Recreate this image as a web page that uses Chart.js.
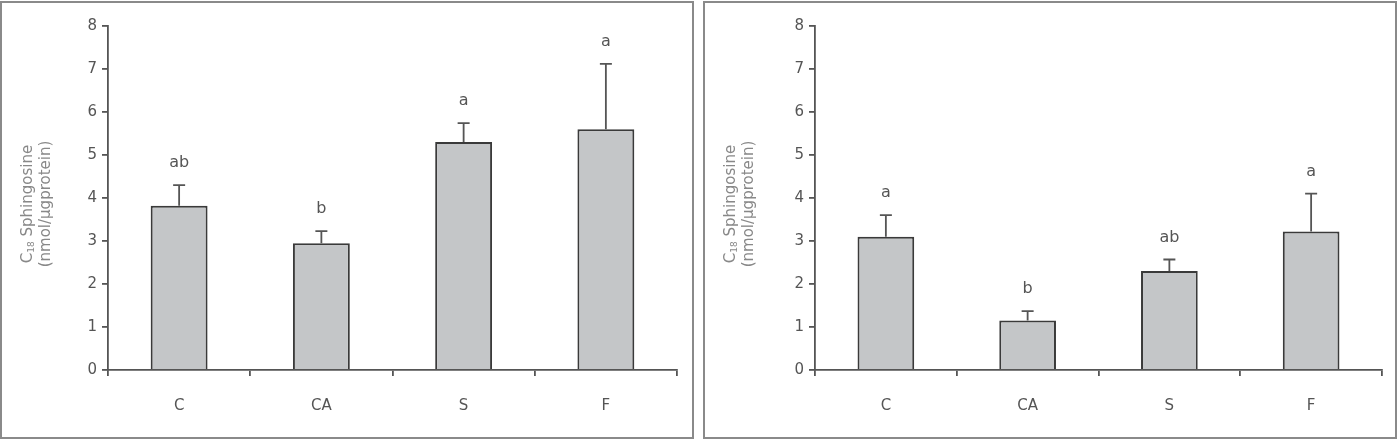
<!DOCTYPE html>
<html>
<head>
<meta charset="utf-8">
<script src="https://cdn.jsdelivr.net/npm/chart.js@4.4.1/dist/chart.umd.min.js"></script>
<style>
  html, body { margin: 0; padding: 0; background: #fff; }
  .panel { position: absolute; top: 1px; width: 690px; height: 434px; border: 2px solid #8a8a8a; background: #fff; }
  #leftPanel { left: 0px; }
  #rightPanel { left: 703px; }
</style>
</head>
<body>
<div class="panel" id="leftPanel"><canvas id="leftChart" width="690" height="434"></canvas></div>
<div class="panel" id="rightPanel"><canvas id="rightChart" width="690" height="434"></canvas></div>
<script>
// data
const categories = ['C', 'CA', 'S', 'F'];
const leftMeans = [3.82, 2.95, 5.30, 5.60];
const leftErrors = [0.48, 0.28, 0.44, 1.52];
const leftLetters = ['ab', 'b', 'a', 'a'];
const rightMeans = [3.10, 1.15, 2.30, 3.22];
const rightErrors = [0.50, 0.22, 0.27, 0.88];
const rightLetters = ['a', 'b', 'ab', 'a'];
const yMin = 0;
const yMax = 8;
const yStep = 1;

const fontFamily = '"DejaVu Sans", sans-serif';

// error bars, significance letters and the two-line y title with subscript
const extrasPlugin = {
    id: 'extras',
    afterDatasetsDraw(chart, args, opts) {
        const ctx = chart.ctx;
        const y = chart.scales.y;
        const meta = chart.getDatasetMeta(0);
        ctx.save();
        meta.data.forEach((bar, i) => {
            const cx = bar.x;
            const top = y.getPixelForValue(opts.means[i]);
            const errTop = y.getPixelForValue(opts.means[i] + opts.errors[i]);
            ctx.strokeStyle = '#555';
            ctx.lineWidth = 1.8;
            ctx.beginPath();
            ctx.moveTo(cx, top);
            ctx.lineTo(cx, errTop);
            ctx.moveTo(cx - 6, errTop);
            ctx.lineTo(cx + 6, errTop);
            ctx.stroke();
            ctx.fillStyle = '#555';
            ctx.font = '16px ' + fontFamily;
            ctx.textAlign = 'center';
            ctx.textBaseline = 'middle';
            ctx.fillText(opts.letters[i], cx, errTop - 22);
        });

        // y title
        const midY = (y.top + y.bottom) / 2 + 6;
        ctx.fillStyle = '#888';
        ctx.translate(opts.titleX, midY);
        ctx.rotate(-Math.PI / 2);
        ctx.textBaseline = 'middle';
        ctx.textAlign = 'left';
        const big = '15px ' + fontFamily;
        const small = '9px ' + fontFamily;
        ctx.font = big;
        const wC = ctx.measureText('C').width;
        const wRest = ctx.measureText(' Sphingosine').width;
        ctx.font = small;
        const wSub = ctx.measureText('18').width;
        let sx = -(wC + wSub + wRest) / 2;
        ctx.font = big;
        ctx.fillText('C', sx, 0);
        sx += wC;
        ctx.font = small;
        ctx.fillText('18', sx, 4);
        sx += wSub;
        ctx.font = big;
        ctx.fillText(' Sphingosine', sx, 0);
        ctx.textAlign = 'center';
        ctx.fillText('(nmol/\u00b5gprotein)', 0, 18);
        ctx.restore();
    }
};

function makeChart(id, means, errors, letters, padLeft, padRight) {
    return new Chart(document.getElementById(id), {
        type: 'bar',
        data: {
            labels: categories,
            datasets: [{
                data: means,
                backgroundColor: '#c4c6c8',
                borderColor: '#3a3a3a',
                borderWidth: 2,
                borderSkipped: 'bottom',
                categoryPercentage: 1.0,
                barPercentage: 0.4
            }]
        },
        options: {
            responsive: false,
            animation: false,
            events: [],
            layout: { padding: { left: padLeft, right: padRight, top: 23, bottom: 0 } },
            plugins: {
                legend: { display: false },
                tooltip: { enabled: false },
                extras: { means: means, errors: errors, letters: letters, titleX: 26 }
            },
            scales: {
                x: {
                    offset: true,
                    grid: { offset: true, drawOnChartArea: false, tickLength: 6, color: '#555', lineWidth: 1.8 },
                    border: { display: true, color: '#555', width: 1.8 },
                    ticks: { color: '#555', padding: 21, font: { family: fontFamily, size: 15 } },
                    afterFit(scale) { scale.height = 67; }
                },
                y: {
                    min: yMin,
                    max: yMax,
                    grid: { drawOnChartArea: false, tickLength: 6, color: '#555', lineWidth: 1.8 },
                    border: { display: true, color: '#555', width: 1.8 },
                    ticks: { stepSize: yStep, color: '#555', padding: 5, font: { family: fontFamily, size: 15 } },
                    afterFit(scale) { scale.width = 30; }
                }
            }
        },
        plugins: [extrasPlugin]
    });
}

makeChart('leftChart', leftMeans, leftErrors, leftLetters, 76, 15);
makeChart('rightChart', rightMeans, rightErrors, rightLetters, 80, 13);
</script>
</body>
</html>
